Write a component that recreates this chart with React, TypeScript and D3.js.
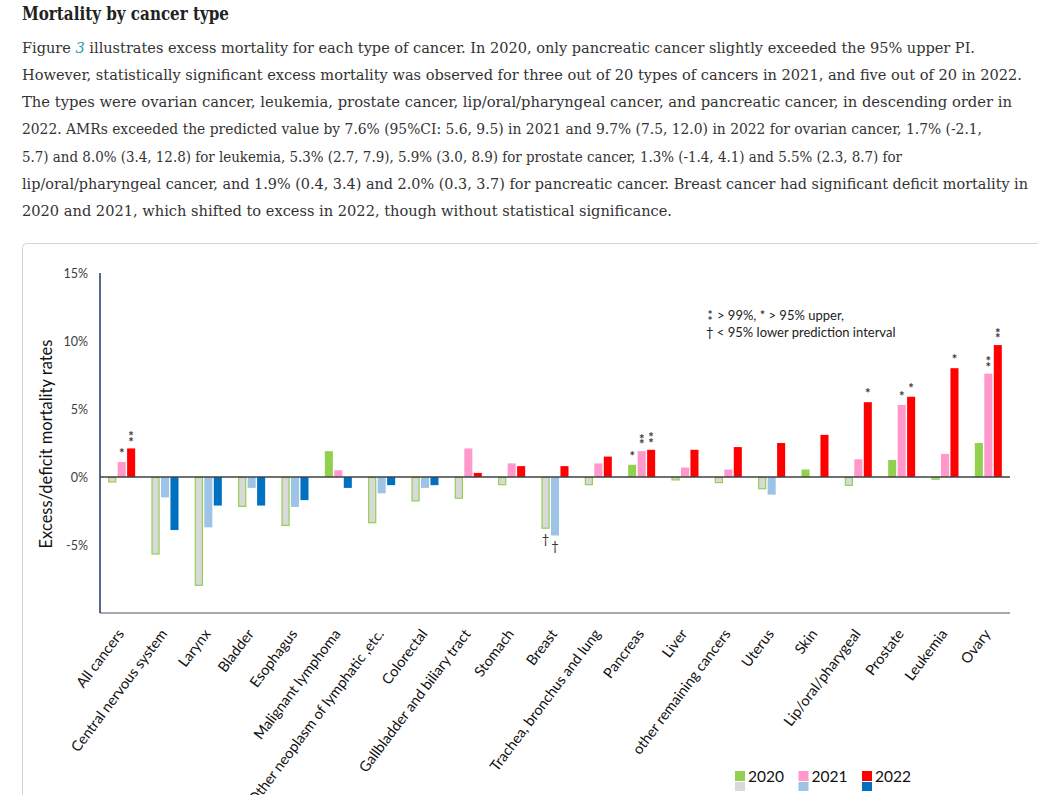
import { useEffect, useRef } from "react"
import * as d3 from "d3"

const categories = [
  "All cancers",
  "Central nervous system",
  "Larynx",
  "Bladder",
  "Esophagus",
  "Malignant lymphoma",
  "Other neoplasm of lymphatic ,etc.",
  "Colorectal",
  "Gallbladder and biliary tract",
  "Stomach",
  "Breast",
  "Trachea, bronchus and lung",
  "Pancreas",
  "Liver",
  "other remaining cancers",
  "Uterus",
  "Skin",
  "Lip/oral/pharygeal",
  "Prostate",
  "Leukemia",
  "Ovary",
]

const years = ["2020", "2021", "2022"]

const values2020 = [-0.4, -5.7, -8.0, -2.2, -3.6, 1.9, -3.4, -1.8, -1.6, -0.6, -3.8, -0.6, 0.9, -0.25, -0.45, -0.9, 0.55, -0.65, 1.25, -0.2, 2.5]
const values2021 = [1.1, -1.5, -3.7, -0.8, -2.2, 0.5, -1.2, -0.8, 2.1, 1.0, -4.3, 1.0, 1.9, 0.7, 0.55, -1.3, 0, 1.3, 5.3, 1.7, 7.6]
const values2022 = [2.1, -3.9, -2.1, -2.1, -1.7, -0.8, -0.6, -0.6, 0.3, 0.8, 0.8, 1.5, 2.0, 2.0, 2.2, 2.5, 3.1, 5.5, 5.9, 8.0, 9.7]

const yTicks = [-5, 0, 5, 10, 15]

// significance marks: category, year, symbol
const marks: [string, string, string][] = [
  ["All cancers", "2021", "*"],
  ["All cancers", "2022", "**"],
  ["Breast", "2020", "†"],
  ["Breast", "2021", "†"],
  ["Pancreas", "2020", "*"],
  ["Pancreas", "2021", "**"],
  ["Pancreas", "2022", "**"],
  ["Lip/oral/pharygeal", "2022", "*"],
  ["Prostate", "2021", "*"],
  ["Prostate", "2022", "*"],
  ["Leukemia", "2022", "*"],
  ["Ovary", "2021", "**"],
  ["Ovary", "2022", "**"],
]

const paragraph = [
  "However, statistically significant excess mortality was observed for three out of 20 types of cancers in 2021, and five out of 20 in 2022.",
  "The types were ovarian cancer, leukemia, prostate cancer, lip/oral/pharyngeal cancer, and pancreatic cancer, in descending order in",
  "2022. AMRs exceeded the predicted value by 7.6% (95%CI: 5.6, 9.5) in 2021 and 9.7% (7.5, 12.0) in 2022 for ovarian cancer, 1.7% (-2.1,",
  "5.7) and 8.0% (3.4, 12.8) for leukemia, 5.3% (2.7, 7.9), 5.9% (3.0, 8.9) for prostate cancer, 1.3% (-1.4, 4.1) and 5.5% (2.3, 8.7) for",
  "lip/oral/pharyngeal cancer, and 1.9% (0.4, 3.4) and 2.0% (0.3, 3.7) for pancreatic cancer. Breast cancer had significant deficit mortality in",
  "2020 and 2021, which shifted to excess in 2022, though without statistical significance.",
]
const paragraphEnds = [1022, 1012, 982, 902, 1028, 672]

const posColors: Record<string, string> = { "2020": "#92d050", "2021": "#ff99cc", "2022": "#ff0000" }
const negColors: Record<string, string> = { "2020": "#d9d9d9", "2021": "#9dc3e6", "2022": "#0070c0" }

export default function App() {
  const svgRef = useRef<SVGSVGElement>(null)

  useEffect(() => {
    if (!svgRef.current) return
    const svg = d3.select(svgRef.current)
    svg.selectAll("*").remove()

    const serif = "'DejaVu Serif Condensed', 'DejaVu Serif', serif"
    const sans = "Lato, 'Open Sans', sans-serif"

    // heading and text
    svg.append("text")
      .attr("x", 22).attr("y", 20)
      .attr("font-family", serif).attr("font-weight", "bold").attr("font-size", 19)
      .attr("fill", "#222")
      .attr("textLength", 207).attr("lengthAdjust", "spacingAndGlyphs")
      .text("Mortality by cancer type")

    const first = svg.append("text")
      .attr("x", 22).attr("y", 52.7)
      .attr("font-family", serif).attr("font-size", 15.5).attr("fill", "#333")
      .attr("textLength", 953).attr("lengthAdjust", "spacingAndGlyphs")
    first.append("tspan").text("Figure ")
    first.append("tspan").attr("font-style", "italic").attr("fill", "#2a9cb8").text("3")
    first.append("tspan").text(" illustrates excess mortality for each type of cancer. In 2020, only pancreatic cancer slightly exceeded the 95% upper PI.")

    paragraph.forEach((line, i) => {
      svg.append("text")
        .attr("x", 22).attr("y", 52.7 + (i + 1) * 27.2)
        .attr("font-family", serif).attr("font-size", 15.5).attr("fill", "#333")
        .attr("textLength", paragraphEnds[i] - 22).attr("lengthAdjust", "spacingAndGlyphs")
        .text(line)
    })

    // chart frame
    svg.append("rect")
      .attr("x", 22.5).attr("y", 243.5).attr("width", 1040).attr("height", 600)
      .attr("rx", 4).attr("fill", "#fff").attr("stroke", "#d4d4d4")

    const x0 = d3.scaleBand<string>().domain(categories).range([100, 1010]).paddingInner(0.377).paddingOuter(0.1885)
    const x1 = d3.scaleBand<string>().domain(years).range([0, x0.bandwidth()]).paddingInner(0.15)
    const y = d3.scaleLinear().domain([-10, 15]).range([613, 273])

    const series: Record<string, number[]> = { "2020": values2020, "2021": values2021, "2022": values2022 }

    const g = svg.append("g")

    // bars (negative values switch to the grey / blue palette)
    years.forEach((yr) => {
      categories.forEach((cat, i) => {
        const v = series[yr][i]
        if (v === 0) return
        const bx = (x0(cat) || 0) + (x1(yr) || 0)
        const top = y(Math.max(v, 0))
        const h = Math.abs(y(v) - y(0))
        const isNeg = v < 0
        const outline = isNeg && yr === "2020"
        g.append("rect")
          .attr("x", outline ? bx + 0.5 : bx)
          .attr("y", outline ? top + 0.5 : top)
          .attr("width", outline ? x1.bandwidth() - 1 : x1.bandwidth())
          .attr("height", outline ? Math.max(h - 1, 0) : h)
          .attr("fill", isNeg ? negColors[yr] : posColors[yr])
          .attr("stroke", outline ? "#92d050" : "none")
          .attr("stroke-width", 1.2)
      })
    })

    // axes lines
    g.append("line")
      .attr("x1", 100).attr("x2", 1010).attr("y1", y(-10)).attr("y2", y(-10))
      .attr("stroke", "#8c8c8c").attr("stroke-width", 1.5)
    g.append("line")
      .attr("x1", 100).attr("x2", 100).attr("y1", y(15)).attr("y2", y(-10))
      .attr("stroke", "#1f3864").attr("stroke-width", 1.5)
    g.append("line")
      .attr("x1", 100).attr("x2", 1010).attr("y1", y(0)).attr("y2", y(0))
      .attr("stroke", "#404040").attr("stroke-width", 1.5)

    // y tick labels
    g.selectAll(".ytick")
      .data(yTicks)
      .enter()
      .append("text")
      .attr("x", 88)
      .attr("y", (d) => y(d) + 4.5)
      .attr("text-anchor", "end")
      .attr("font-family", sans).attr("font-size", 12.5).attr("fill", "#404040")
      .text((d) => `${d}%`)

    // y axis title
    g.append("text")
      .attr("transform", `translate(52, ${444}) rotate(-90)`)
      .attr("text-anchor", "middle")
      .attr("font-family", sans).attr("font-size", 16.5).attr("fill", "#111")
      .text("Excess/deficit mortality rates")

    // category labels
    categories.forEach((cat) => {
      const cx = (x0(cat) || 0) + x0.bandwidth() / 2
      g.append("text")
        .attr("transform", `translate(${cx + 3}, 634) rotate(-53)`)
        .attr("text-anchor", "end")
        .attr("font-family", sans).attr("font-size", 14.5).attr("fill", "#111")
        .text(cat)
    })

    // significance marks
    const markSize = 13
    marks.forEach(([cat, yr, sym]) => {
      const i = categories.indexOf(cat)
      const v = series[yr][i]
      const mx = (x0(cat) || 0) + (x1(yr) || 0) + x1.bandwidth() / 2
      const addStar = (cy: number) =>
        g.append("text")
          .attr("x", mx).attr("y", cy + markSize * 0.55)
          .attr("text-anchor", "middle")
          .attr("font-family", sans).attr("font-weight", "bold")
          .attr("font-size", markSize).attr("fill", "#3a3a3a")
          .text("*")
      if (sym === "*") addStar(y(v) - 11)
      if (sym === "**") {
        addStar(y(v) - 9)
        addStar(y(v) - 14.5)
      }
      if (sym === "†") {
        g.append("text")
          .attr("x", mx).attr("y", y(v) + 11 + markSize * 0.35)
          .attr("text-anchor", "middle")
          .attr("font-family", sans).attr("font-size", markSize).attr("fill", "#333")
          .text("†")
      }
    })

    // note legend
    const note = g.append("g").attr("font-family", sans).attr("font-size", 13).attr("fill", "#222")
    ;[312, 318].forEach((cy) =>
      note.append("text").attr("x", 710).attr("y", cy + 12 * 0.55).attr("text-anchor", "middle")
        .attr("font-size", 12).attr("font-weight", "bold").attr("fill", "#3a3a3a").text("*"))
    note.append("text").attr("x", 717).attr("y", 319.5).text("> 99%,  * > 95% upper,")
    note.append("text").attr("x", 706).attr("y", 336.5).text("† < 95% lower prediction interval")

    // year legend
    const legend = g.append("g")
    years.forEach((yr, i) => {
      const lx = 735 + i * 63.5
      legend.append("rect").attr("x", lx).attr("y", 771).attr("width", 10).attr("height", 10).attr("fill", posColors[yr])
      legend.append("rect").attr("x", lx).attr("y", 782).attr("width", 10).attr("height", 9).attr("fill", negColors[yr])
      legend.append("text")
        .attr("x", lx + 13).attr("y", 782)
        .attr("font-family", sans).attr("font-size", 15.5).attr("fill", "#111")
        .text(yr)
    })
  }, [])

  return (
    <div style={{ position: "absolute", left: 0, top: 0, width: 1038, height: 795, overflow: "hidden", background: "#fff" }}>
      <svg ref={svgRef} width={1038} height={795} />
    </div>
  )
}
